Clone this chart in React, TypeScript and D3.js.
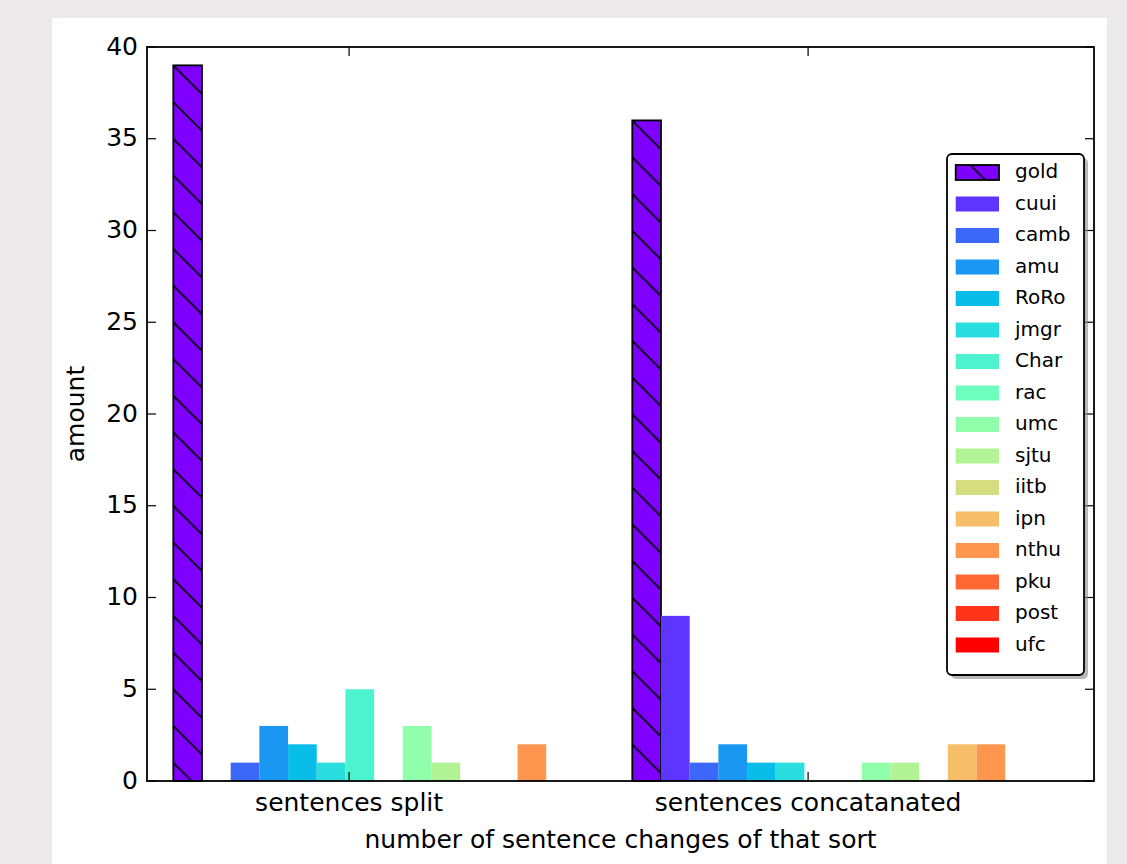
import React from "react";
import * as d3 from "d3";

const categories = ["sentences split", "sentences concatanated"];
const seriesNames = ["gold", "cuui", "camb", "amu", "RoRo", "jmgr", "Char", "rac", "umc", "sjtu", "iitb", "ipn", "nthu", "pku", "post", "ufc"];
const splitValues = [39, 0, 1, 3, 2, 1, 5, 0, 3, 1, 0, 0, 2, 0, 0, 0];
const concatValues = [36, 9, 1, 2, 1, 1, 0, 0, 1, 1, 0, 2, 2, 0, 0, 0];
const seriesColors = [
  "#7f00ff", "#5e35fe", "#3b68f9", "#1a96f3", "#08bee9", "#2addde", "#4cf3ce", "#6efebe",
  "#90feab", "#b2f396", "#d4dd80", "#f6be68", "#ff964f", "#ff6835", "#ff351b", "#ff0000",
];
const yTicks = [0, 5, 10, 15, 20, 25, 30, 35, 40];

const W = 1127;
const H = 864;
const L = 147, R = 1094, T = 47, B = 781;
const FONT = "'DejaVu Sans', sans-serif";

export default function App() {
  const values = [splitValues, concatValues];
  const nS = seriesNames.length;
  const bw = 1 / nS;
  const x = d3.scaleLinear().domain([-0.0573, 2.0059]).range([L, R]);
  const y = d3.scaleLinear().domain([0, 40]).range([B, T]);
  const tickOffset = 0.383;
  const P = 36.7;
  const patX = x(0);
  const patY = y(splitValues[0]);

  const legendTop = 154, legendLeft = 947, legendW = 137, legendH = 521;
  const rowStart = 172.5, rowStep = 31.5;

  return (
    <svg width={W} height={H} style={{ position: "absolute", left: 0, top: 0 }} fontFamily={FONT}>
      <defs>
        <pattern id="hatch" patternUnits="userSpaceOnUse" x={patX} y={patY} width={P} height={P}>
          <path
            d={`M-2,-2L${P + 2},${P + 2}M${P - 2},-2L${P + 2},2M-2,${P - 2}L2,${P + 2}`}
            stroke="#000"
            strokeWidth={1.6}
            fill="none"
          />
        </pattern>
      </defs>
      <rect x={0} y={0} width={W} height={H} fill="#ebe9e9" />
      <rect x={52} y={18} width={1107 - 52} height={H - 18} fill="#ffffff" />

      {/* bars */}
      {values.map((vals, gi) =>
        vals.map((v, si) => {
          const x0 = x(gi + si * bw);
          const x1 = x(gi + (si + 1) * bw);
          const yt = y(v);
          if (si === 0) {
            return (
              <g key={`${gi}-${si}`}>
                <rect x={x0} y={yt} width={x1 - x0} height={B - yt} fill={seriesColors[si]} />
                <rect x={x0} y={yt} width={x1 - x0} height={B - yt} fill="url(#hatch)" stroke="#000" strokeWidth={1.8} />
              </g>
            );
          }
          return <rect key={`${gi}-${si}`} x={x0} y={yt} width={x1 - x0} height={B - yt} fill={seriesColors[si]} />;
        })
      )}

      {/* frame */}
      <rect x={L} y={T} width={R - L} height={B - T} fill="none" stroke="#000" strokeWidth={1.8} />

      {/* y ticks */}
      {yTicks.map((t) => (
        <g key={`yt${t}`}>
          <line x1={L} x2={L + 9} y1={y(t)} y2={y(t)} stroke="#000" strokeWidth={1.2} />
          <line x1={R} x2={R - 9} y1={y(t)} y2={y(t)} stroke="#000" strokeWidth={1.2} />
          <text x={138} y={y(t) + 7.5} textAnchor="end" fontSize={25} fill="#000">
            {t}
          </text>
        </g>
      ))}

      {/* x ticks */}
      {categories.map((c, i) => {
        const xp = x(i + tickOffset);
        return (
          <g key={`xt${i}`}>
            <line x1={xp} x2={xp} y1={B} y2={B - 9} stroke="#000" strokeWidth={1.2} />
            <line x1={xp} x2={xp} y1={T} y2={T + 9} stroke="#000" strokeWidth={1.2} />
            <text x={xp} y={811} textAnchor="middle" fontSize={25} fill="#000">
              {c}
            </text>
          </g>
        );
      })}

      <text x={(L + R) / 2} y={848} textAnchor="middle" fontSize={25} fill="#000">
        number of sentence changes of that sort
      </text>
      <text transform={`translate(84,${(T + B) / 2}) rotate(-90)`} textAnchor="middle" fontSize={25} fill="#000">
        amount
      </text>

      {/* legend */}
      <rect x={legendLeft + 4} y={legendTop + 4} width={legendW} height={legendH} rx={5} fill="#888" opacity={0.6} />
      <rect x={legendLeft} y={legendTop} width={legendW} height={legendH} rx={5} fill="#fff" stroke="#000" strokeWidth={1.8} />
      {seriesNames.map((name, i) => {
        const cy = rowStart + i * rowStep;
        return (
          <g key={`lg${i}`}>
            <rect
              x={955.7}
              y={cy - 7.5}
              width={43.3}
              height={15}
              fill={seriesColors[i]}
              stroke={i === 0 ? "#000" : "none"}
              strokeWidth={1.8}
            />
            {i === 0 && (
              <rect x={955.7} y={cy - 7.5} width={43.3} height={15} fill="url(#hatch)" />
            )}
            <text x={1015} y={cy + 5.5} fontSize={20} fill="#000">
              {name}
            </text>
          </g>
        );
      })}
    </svg>
  );
}
